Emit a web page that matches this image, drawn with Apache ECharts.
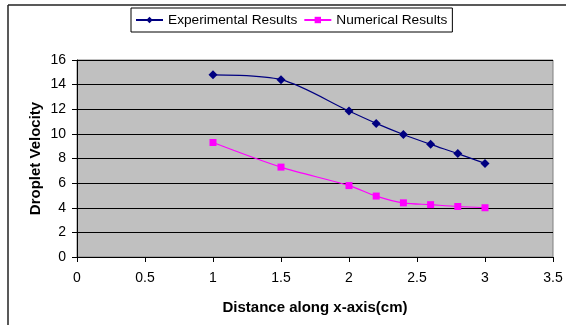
<!DOCTYPE html>
<html>
<head>
<meta charset="utf-8">
<script src="https://cdn.jsdelivr.net/npm/echarts@6/dist/echarts.min.js"></script>
<style>html,body{margin:0;padding:0;background:#fff;}#c{width:566px;height:325px;}</style>
</head>
<body>
<div id="c"></div>
<script>
var xValues = [1, 1.5, 2, 2.2, 2.4, 2.6, 2.8, 3];
var experimental = [14.8, 14.4, 11.85, 10.85, 9.95, 9.15, 8.4, 7.6];
var numerical = [9.3, 7.3, 5.8, 4.95, 4.4, 4.25, 4.1, 4.0];
var seriesNames = ['Experimental Results', 'Numerical Results'];
var xTitle = 'Distance along x-axis(cm)';
var yTitle = 'Droplet Velocity';

function pairs(xs, ys) { return xs.map(function (x, i) { return [x, ys[i]]; }); }

var chart = echarts.init(document.getElementById('c'), null, {renderer: 'canvas'});
var font = 'Liberation Sans, Arial, sans-serif';
chart.setOption({
  animation: false,
  backgroundColor: '#fff',
  textStyle: {fontFamily: font},
  grid: {left: 77, right: 13, top: 60, bottom: 68, show: true, backgroundColor: '#C0C0C0', borderColor: '#808080', borderWidth: 1},
  legend: {
    top: 8, left: 131,
    itemWidth: 27, itemHeight: 8, itemGap: 6,
    padding: [5, 5, 5, 4],
    borderColor: '#000', borderWidth: 1,
    textStyle: {fontFamily: font, fontSize: 13.7, color: '#000'},
    data: seriesNames
  },
  xAxis: {
    type: 'value', min: 0, max: 3.5, interval: 0.5,
    name: xTitle, nameLocation: 'middle', nameGap: 43,
    nameTextStyle: {fontFamily: font, fontSize: 15, fontWeight: 'bold', color: '#000'},
    axisLine: {lineStyle: {color: '#000', width: 1}},
    axisTick: {show: true, length: 5, lineStyle: {color: '#000'}},
    axisLabel: {fontFamily: font, fontSize: 14, color: '#000', margin: 14},
    splitLine: {show: false}
  },
  yAxis: {
    type: 'value', min: 0, max: 16, interval: 2,
    name: yTitle, nameLocation: 'middle', nameGap: 34, nameRotate: 90,
    nameMoveOverlap: false,
    nameTextStyle: {fontFamily: font, fontSize: 15, fontWeight: 'bold', color: '#000'},
    axisLine: {show: true, lineStyle: {color: '#000', width: 1}},
    axisTick: {show: true, length: 5, lineStyle: {color: '#000'}},
    axisLabel: {fontFamily: font, fontSize: 14, color: '#000', margin: 11},
    splitLine: {show: true, lineStyle: {color: '#000', width: 1}}
  },
  series: [
    {name: seriesNames[0], type: 'line', data: pairs(xValues, experimental), smooth: 0.3,
     symbol: 'diamond', symbolSize: 9, itemStyle: {color: '#000080'}, lineStyle: {color: '#000080', width: 1.2}},
    {name: seriesNames[1], type: 'line', data: pairs(xValues, numerical), smooth: 0.3,
     symbol: 'rect', symbolSize: 7, itemStyle: {color: '#FF00FF'}, lineStyle: {color: '#FF00FF', width: 1.2}}
  ],
  graphic: [
    {type: 'line', shape: {x1: 8, y1: 5, x2: 566, y2: 5}, style: {stroke: '#222', lineWidth: 1.5}},
    {type: 'line', shape: {x1: 8, y1: 5, x2: 8, y2: 325}, style: {stroke: '#222', lineWidth: 1.5}}
  ]
});
</script>
</body>
</html>
